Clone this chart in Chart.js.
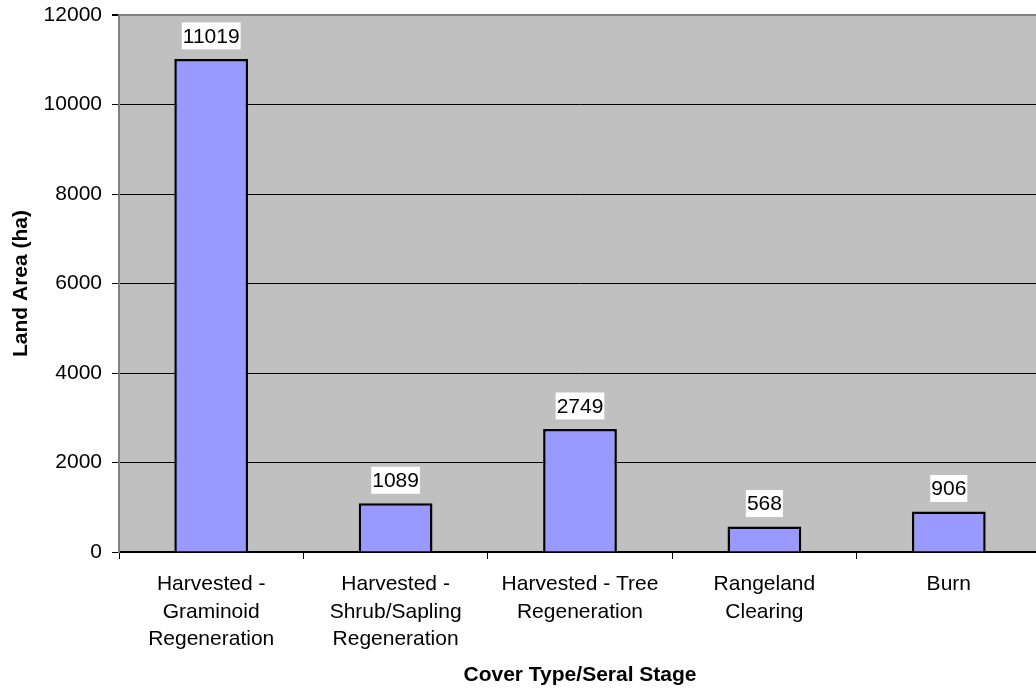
<!DOCTYPE html>
<html>
<head>
<meta charset="utf-8">
<script src="https://cdn.jsdelivr.net/npm/chart.js@4/dist/chart.umd.min.js"></script>
<style>
  html, body { margin: 0; padding: 0; background: #fff; overflow: hidden; }
  #wrap { width: 1036px; height: 691px; overflow: hidden; }
  canvas { display: block; }
</style>
</head>
<body>
<div id="wrap"><canvas id="c" width="1041" height="691"></canvas></div>
<script>
// ---- data ----
const categories = [
  ['Harvested -', 'Graminoid', 'Regeneration'],
  ['Harvested -', 'Shrub/Sapling', 'Regeneration'],
  ['Harvested - Tree', 'Regeneration'],
  ['Rangeland', 'Clearing'],
  ['Burn']
];
const landArea = [11019, 1089, 2749, 568, 906];
const yTicks = [0, 2000, 4000, 6000, 8000, 10000, 12000];

const FONT = "'Liberation Sans', Arial, sans-serif";

// gray plot background
const plotBg = {
  id: 'plotBg',
  beforeDraw(chart) {
    const {ctx, chartArea: a} = chart;
    ctx.save();
    ctx.fillStyle = '#c0c0c0';
    ctx.fillRect(a.left, a.top, a.right - a.left, a.bottom - a.top);
    ctx.restore();
  }
};

// value labels on white boxes
const valueLabels = {
  id: 'valueLabels',
  afterDatasetsDraw(chart) {
    const ctx = chart.ctx;
    const meta = chart.getDatasetMeta(0);
    ctx.save();
    ctx.font = '21px ' + FONT;
    ctx.textAlign = 'center';
    ctx.textBaseline = 'middle';
    meta.data.forEach((bar, i) => {
      const txt = String(landArea[i]);
      const w = ctx.measureText(txt).width + 2;
      const cy = bar.y - 23;
      ctx.fillStyle = '#fff';
      ctx.fillRect(bar.x - w / 2, cy - 13.5, w, 27);
      ctx.fillStyle = '#000';
      ctx.fillText(txt, bar.x, cy + 1);
    });
    ctx.restore();
  }
};

new Chart(document.getElementById('c'), {
  type: 'bar',
  data: {
    labels: categories,
    datasets: [{
      data: landArea,
      backgroundColor: '#9999ff',
      borderColor: '#000',
      borderWidth: 2.5,
      barPercentage: 0.4,
      categoryPercentage: 1
    }]
  },
  options: {
    responsive: false,
    animation: false,
    layout: { padding: { top: 15, left: 0, right: 0, bottom: 0 } },
    plugins: { legend: { display: false }, tooltip: { enabled: false } },
    scales: {
      x: {
        offset: true,
        grid: { offset: true, drawOnChartArea: false, color: '#000', tickLength: 7 },
        border: { color: '#000', width: 2 },
        ticks: { color: '#000', font: { family: FONT, size: 21, lineHeight: 1.3 }, padding: 12, maxRotation: 0, autoSkip: false },
        title: { display: true, text: 'Cover Type/Seral Stage', color: '#000',
                 font: { family: FONT, size: 21, weight: 'bold' }, padding: { top: 0, bottom: 3 } },
        afterFit(s) { s.height = 139; s.paddingLeft = 0; s.paddingRight = 0; }
      },
      y: {
        min: 0, max: 12000,
        afterBuildTicks(s) { s.ticks = yTicks.map(v => ({ value: v })); },
        grid: {
          color: c => c.tick && c.tick.value === 12000 ? '#808080' : '#000',
          lineWidth: c => c.tick && c.tick.value === 12000 ? 2 : 1,
          tickColor: '#000', tickLength: 7
        },
        border: { color: '#808080', width: 2 },
        ticks: { color: '#000', font: { family: FONT, size: 21 }, padding: 10,
                 callback: v => String(v) },
        title: { display: true, text: 'Land Area (ha)', color: '#000',
                 font: { family: FONT, size: 21, weight: 'bold' }, padding: { top: 9, bottom: 0 } },
        afterFit(s) { s.width = 119; s.paddingTop = 0; s.paddingBottom = 0; }
      }
    }
  },
  plugins: [plotBg, valueLabels]
});
</script>
</body>
</html>
